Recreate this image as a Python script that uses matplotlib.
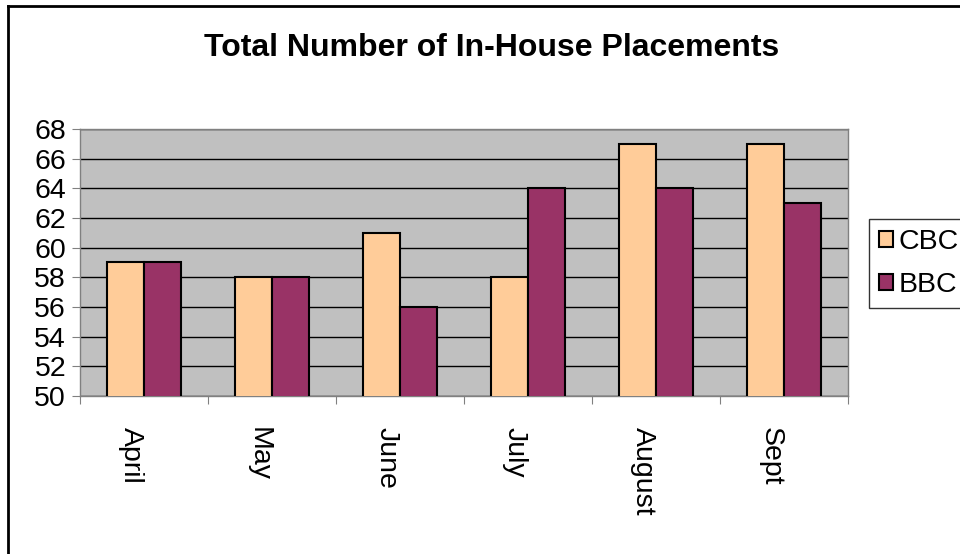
import matplotlib.pyplot as plt
import matplotlib.transforms as mtransforms
import numpy as np

months = ["April", "May", "June", "July", "August", "Sept"]
cbc = [59, 58, 61, 58, 67, 67]
bbc = [59, 58, 56, 64, 64, 63]

plt.rcParams['font.family'] = ['Liberation Sans', 'DejaVu Sans']

fig = plt.figure(figsize=(9.6, 5.54), dpi=100)
ax = fig.add_axes([80/960, 1 - 396/554, 768/960, 267/554])
ax.set_facecolor("#C0C0C0")

x = np.arange(len(months))
w = 0.286
ax.bar(x - w/2, cbc, w, color="#FFCC99", edgecolor="black", linewidth=1.5, label="CBC", zorder=3)
ax.bar(x + w/2, bbc, w, color="#993366", edgecolor="black", linewidth=1.5, label="BBC", zorder=3)

ax.set_xlim(-0.5, len(months) - 0.5)
ax.set_ylim(50, 68)
ax.set_yticks(range(50, 69, 2))
ax.yaxis.grid(True, color="black", linewidth=1, zorder=1)
ax.set_axisbelow(True)

for s in ax.spines.values():
    s.set_color("#808080")
    s.set_linewidth(1)

ax.tick_params(axis="y", length=6, color="#808080", labelsize=20.5, pad=4)
# category ticks at the borders, labels at the centres
ax.set_xticks(np.arange(len(months) + 1) - 0.5)
ax.set_xticklabels([])
ax.tick_params(axis="x", length=6, color="#808080")
ax.set_xticks(x, minor=True)
ax.set_xticklabels(months, minor=True, rotation=270, fontsize=20.5, va="top", ha="center")
ax.tick_params(axis="x", which="minor", length=0, pad=22)
off = mtransforms.ScaledTranslation(-13/100, 0, fig.dpi_scale_trans)
for lab in ax.get_xticklabels(minor=True):
    lab.set_transform(lab.get_transform() + off)

fig.text(492/960, 1 - 48/554, "Total Number of In-House Placements",
         ha="center", va="center", fontsize=23, fontweight="bold")

leg = ax.legend(loc="upper left", bbox_to_anchor=(869/960, 1 - 219/554),
                bbox_transform=fig.transFigure, fontsize=20.5, frameon=True,
                fancybox=False, edgecolor="black", handlelength=0.5,
                handleheight=0.5, handletextpad=0.2, labelspacing=0.6,
                borderpad=0.35, borderaxespad=0)
leg.get_frame().set_linewidth(1)

# outer chart border
fig.add_artist(plt.Line2D([8/960, 8/960], [0, 1 - 6/554], color="black", linewidth=2, transform=fig.transFigure))
fig.add_artist(plt.Line2D([8/960, 1], [1 - 6/554, 1 - 6/554], color="black", linewidth=2, transform=fig.transFigure))

fig.savefig("out.png", dpi=100)
